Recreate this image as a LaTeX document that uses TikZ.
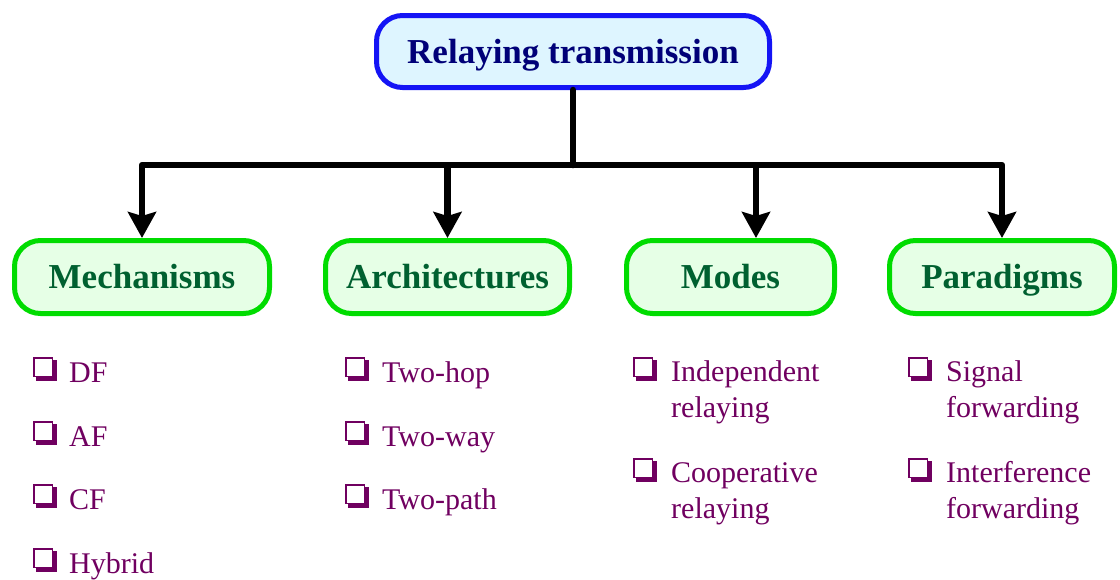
\documentclass[tikz,border=0pt]{standalone}
\usepackage{fontspec}
\setmainfont{Liberation Serif}
\usetikzlibrary{arrows.meta}
\definecolor{topborder}{RGB}{20,20,245}
\definecolor{topfill}{RGB}{222,245,255}
\definecolor{toptext}{RGB}{0,0,120}
\definecolor{catborder}{RGB}{0,220,0}
\definecolor{catfill}{RGB}{230,255,230}
\definecolor{cattext}{RGB}{0,96,48}
\definecolor{itemcol}{RGB}{112,0,96}
\tikzset{
  topbox/.style={draw=topborder, fill=topfill, line width=5pt, rounded corners=26pt,
    minimum width=393pt, minimum height=72pt, text=toptext, inner sep=0pt,
    text height=23.5pt, text depth=0pt,
    font=\bfseries\fontsize{35}{40}\selectfont},
  catbox/.style={draw=catborder, fill=catfill, line width=5pt, rounded corners=26pt,
    minimum height=73pt, text=cattext, inner sep=0pt,
    text height=23.5pt, text depth=0pt,
    font=\bfseries\fontsize{35}{40}\selectfont},
  item/.style={text=itemcol, font=\fontsize{30}{36}\selectfont, anchor=base west,
    inner sep=0pt, align=left},
  conn/.style={line width=6.5pt, line join=round, line cap=round},
  arr/.style={line width=6.5pt, line join=round, -{Stealth[width=28pt,length=26pt,inset=4pt]}},
  sqb/.pic={
    \draw[itemcol, line width=1.8pt] (0.9,0.9) rectangle (19.5,19.5);
    \fill[itemcol] (19.5,2.5) rectangle (24,24);
    \fill[itemcol] (2.5,19.5) rectangle (24,24);
  }
}
\begin{document}
\begin{tikzpicture}[x=1pt,y=-1pt]
\useasboundingbox (0,0) rectangle (1120,579);

\node[topbox] (top) at (573,51.5) {Relaying transmission};

\node[catbox, minimum width=255pt] (mech) at (142,277) {Mechanisms};
\node[catbox, minimum width=244pt] (arch) at (447.5,277) {Architectures};
\node[catbox, minimum width=208pt] (mode) at (730.5,277) {Modes};
\node[catbox, minimum width=225pt] (para) at (1002,277) {Paradigms};

\coordinate (bus) at (573,165);
\coordinate (modein) at (756,238);

\draw[conn] (top.south) -- (bus);
\draw[arr] (bus) -| (mech.north);
\draw[arr] (bus) -| (arch.north);
\draw[arr] (bus) -| (modein);
\draw[arr] (bus) -| (para.north);

% Mechanisms
\pic at (33,357) {sqb}; \node[item] (m1) at (69,382) {DF};
\pic at (33,421) {sqb}; \node[item] (m2) at (69,446) {AF};
\pic at (33,484) {sqb}; \node[item] (m3) at (69,509) {CF};
\pic at (33,548) {sqb}; \node[item] (m4) at (69,573) {Hybrid};

% Architectures
\pic at (345,357) {sqb}; \node[item] (a1) at (382,382) {Two-hop};
\pic at (345,421) {sqb}; \node[item] (a2) at (382,446) {Two-way};
\pic at (345,484) {sqb}; \node[item] (a3) at (382,509) {Two-path};

% Modes (base anchor = last line)
\pic at (633,357) {sqb}; \node[item] (d1) at (671,417) {Independent\\relaying};
\pic at (633,458) {sqb}; \node[item] (d2) at (671,518) {Cooperative\\relaying};

% Paradigms
\pic at (908,357) {sqb}; \node[item] (p1) at (946,417) {Signal\\forwarding};
\pic at (908,458) {sqb}; \node[item] (p2) at (946,518) {Interference\\forwarding};
\end{tikzpicture}
\end{document}
